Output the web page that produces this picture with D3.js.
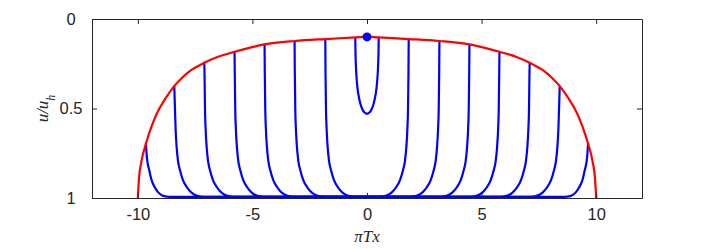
<!DOCTYPE html>
<meta charset="utf-8">
<script src="https://d3js.org/d3.v7.min.js"></script>
<style>
  body { margin: 0; background: #fff; }
  svg text { fill: #262626; }
  .tick text { font: 16.5px "Liberation Sans", Arial, sans-serif; }
  .lab { font: italic 17px "Liberation Serif", "Times New Roman", serif; }
</style>
<body>
<svg id="chart" width="708" height="249"></svg>
<script>
"use strict"

// axis setup
var xTicks = [-10, -5, 0, 5, 10]
var yTicks = [0, 0.5, 1]

// red envelope (left half, mirrored below)
var redHalfX = [-10, -9.95, -9.85, -9.63, -9.4, -9.17, -8.8, -8.44, -8.1, -7.72, -7.1, -6.5, -5.78, -5.1, -4.47, -3.16, -1.82, -0.51, 0]
var redHalfU = [1, 0.89, 0.8, 0.69, 0.6, 0.528, 0.445, 0.379, 0.332, 0.29, 0.245, 0.211, 0.183, 0.16, 0.142, 0.123, 0.112, 0.103, 0.099]

// blue hanging curves: half widths and the u where they meet the red curve
var halfWidth = [1.82, 3.16, 4.47, 5.78, 7.1, 8.41]
var topU = [0.112, 0.123, 0.142, 0.183, 0.245, 0.375]

// shape of one branch: offset toward centre vs u
var hangOff = [0.01, 0.03, 0.06, 0.1, 0.16, 0.25, 0.38, 0.55, 0.75, 1.0, 1.3]
var hangU = [0.3, 0.5, 0.62, 0.71, 0.79, 0.845, 0.9, 0.94, 0.97, 0.988, 0.994]

// outermost blue curve
var edgeX = [-9.65, -9.6, -9.5, -9.4, -9.26, -9.1, -8.9, -8.6, 8.6, 8.9, 9.1, 9.26, 9.4, 9.5, 9.6, 9.65]
var edgeU = [0.69, 0.78, 0.845, 0.9, 0.94, 0.97, 0.988, 0.994, 0.994, 0.988, 0.97, 0.94, 0.9, 0.845, 0.78, 0.69]

// the small curve in the middle
var centerX = [-0.51, -0.5, -0.47, -0.42, -0.35, -0.25, -0.13, 0, 0.13, 0.25, 0.35, 0.42, 0.47, 0.5, 0.51]
var centerU = [0.105, 0.2, 0.3, 0.38, 0.44, 0.49, 0.52, 0.53, 0.52, 0.49, 0.44, 0.38, 0.3, 0.2, 0.105]

var dot = [0, 0.1]

var margin = {left: 92, right: 66, top: 19, bottom: 51}
var W = 708, H = 249
var x = d3.scaleLinear().domain([-12, 12]).range([margin.left, W - margin.right])
var y = d3.scaleLinear().domain([0, 1]).range([margin.top, H - margin.bottom])

var svg = d3.select("#chart")

var line = d3.line()
    .x(function(d){ return x(d[0]) })
    .y(function(d){ return y(d[1]) })
    .curve(d3.curveMonotoneX)

var zip = function(xs, us){ return xs.map(function(v, i){ return [v, us[i]] }) }
var mirror = function(half){
  return half.concat(half.slice(0, -1).map(function(p){ return [-p[0], p[1]] }).reverse())
}

function blue(pts, curve){
  svg.append("path")
      .attr("d", line.curve(curve || d3.curveMonotoneX)(pts))
      .attr("fill", "none")
      .attr("stroke", "#0000ff")
      .attr("stroke-width", 2.2)
}

halfWidth.forEach(function(a, i){
  var left = [[-a, topU[i]]]
  hangOff.forEach(function(o, j){
    if (hangU[j] > topU[i]) left.push([-a + o, hangU[j]])
  })
  var right = left.map(function(p){ return [-p[0], p[1]] }).reverse()
  blue(left.concat(right))
})
blue(zip(edgeX, edgeU))
blue(zip(centerX, centerU), d3.curveCatmullRom)

// red envelope
svg.append("path")
    .attr("d", line.curve(d3.curveMonotoneX)(mirror(zip(redHalfX, redHalfU))))
    .attr("fill", "none")
    .attr("stroke", "#ff0000")
    .attr("stroke-width", 2.2)

svg.append("circle")
    .attr("cx", x(dot[0]))
    .attr("cy", y(dot[1]))
    .attr("r", 4.5)
    .attr("fill", "#0000ff")

// axes, matlab style box with inward ticks
var axCol = "#262626"
var fmt = function(d){ return String(d) }
svg.append("g")
    .attr("transform", "translate(0," + y(1) + ")")
    .call(d3.axisBottom(x).tickValues(xTicks).tickSizeInner(-5).tickSizeOuter(0).tickPadding(10).tickFormat(fmt))
svg.append("g")
    .attr("transform", "translate(0," + y(0) + ")")
    .call(d3.axisTop(x).tickValues(xTicks).tickSizeInner(-5).tickSizeOuter(0).tickFormat(""))
svg.append("g")
    .attr("transform", "translate(" + x(-12) + ",0)")
    .call(d3.axisLeft(y).tickValues(yTicks).tickSizeInner(-5).tickSizeOuter(0).tickFormat(fmt))
  .selectAll(".tick text")
    .attr("text-anchor", "middle")
    .attr("x", -21)
svg.append("g")
    .attr("transform", "translate(" + x(12) + ",0)")
    .call(d3.axisRight(y).tickValues(yTicks).tickSizeInner(-5).tickSizeOuter(0).tickFormat(""))

svg.selectAll(".domain, .tick line").attr("stroke", axCol).attr("stroke-width", 1)
svg.selectAll(".tick text").attr("fill", axCol)

svg.append("text")
    .attr("class", "lab")
    .attr("x", x(0))
    .attr("y", 242)
    .attr("text-anchor", "middle")
    .text("πTx")

var yl = svg.append("text")
    .attr("class", "lab")
    .attr("transform", "translate(48," + y(0.5) + ") rotate(-90)")
    .attr("text-anchor", "middle")
yl.append("tspan").text("u/u")
yl.append("tspan").attr("baseline-shift", "sub").attr("font-size", "12px").text("h")
</script>
</body>
